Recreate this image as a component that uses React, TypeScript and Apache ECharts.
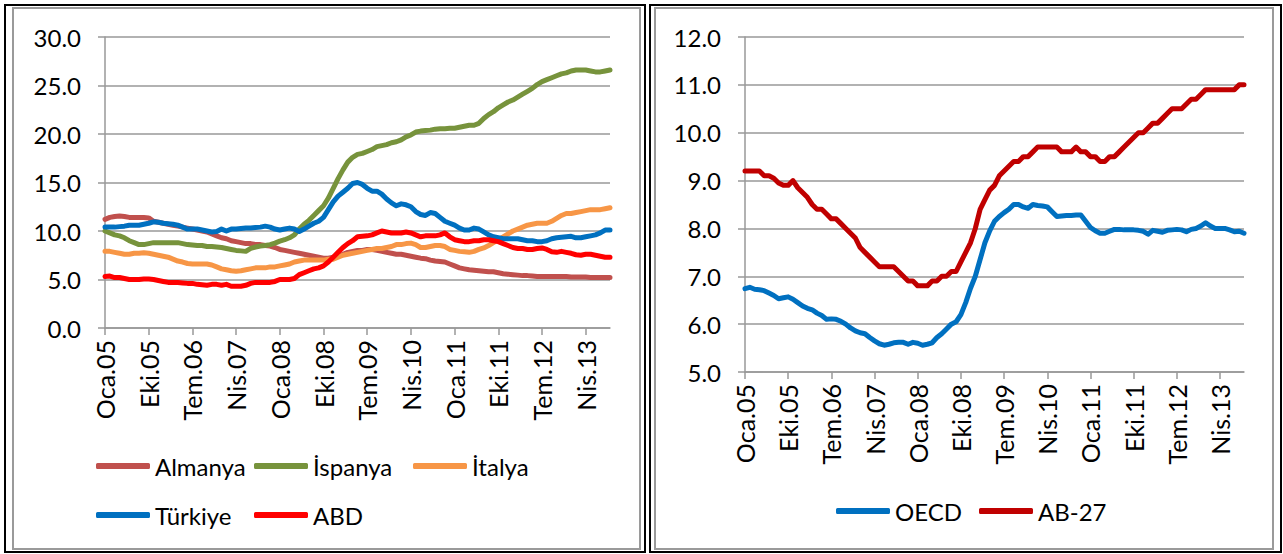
import React, { useEffect, useRef } from "react";
import * as echarts from "echarts";

const monthNames = ["Oca", "Şub", "Mar", "Nis", "May", "Haz", "Tem", "Ağu", "Eyl", "Eki", "Kas", "Ara"];
const yearNames = ["05", "06", "07", "08", "09", "10", "11", "12", "13"];
const monthCount = 105;
const categories: string[] = [];
for (let i = 0; i < monthCount; i++) {
  categories.push(monthNames[i % 12] + "." + yearNames[Math.floor(i / 12)]);
}

const almanya = [
  11.2, 11.4, 11.5, 11.55, 11.5, 11.4, 11.4, 11.4, 11.4, 11.35,
  11.0, 10.9, 10.8, 10.7, 10.6, 10.5, 10.4, 10.3, 10.2, 10.1,
  10.0, 9.9, 9.7, 9.5, 9.3, 9.2, 9.0, 8.9, 8.8, 8.7,
  8.7, 8.6, 8.6, 8.5, 8.45, 8.3, 8.1, 8.0, 7.9, 7.8,
  7.7, 7.6, 7.5, 7.4, 7.3, 7.2, 7.2, 7.3, 7.4, 7.6,
  7.8, 7.9, 8.0, 8.0, 8.1, 8.1, 8.0, 7.9, 7.8, 7.7,
  7.6, 7.6, 7.5, 7.4, 7.3, 7.2, 7.15, 7.0, 6.9, 6.85,
  6.8, 6.6, 6.4, 6.2, 6.1, 6.0, 5.95, 5.9, 5.85, 5.8,
  5.8, 5.7, 5.6, 5.55, 5.5, 5.45, 5.4, 5.4, 5.35, 5.3,
  5.3, 5.3, 5.3, 5.3, 5.3, 5.3, 5.25, 5.25, 5.25, 5.25,
  5.2, 5.2, 5.2, 5.2, 5.2,
];

const ispanya = [
  10.0, 9.8, 9.6, 9.5, 9.3, 9.0, 8.8, 8.6, 8.6, 8.7,
  8.8, 8.8, 8.8, 8.8, 8.8, 8.8, 8.7, 8.6, 8.55, 8.5,
  8.5, 8.4, 8.4, 8.35, 8.3, 8.2, 8.1, 8.0, 7.95, 7.9,
  8.2, 8.35, 8.45, 8.5, 8.6, 8.75, 8.95, 9.1, 9.3, 9.6,
  10.2, 10.7, 11.1, 11.6, 12.1, 12.6, 13.4, 14.4, 15.4, 16.3,
  17.1, 17.6, 17.9, 18.0, 18.2, 18.4, 18.7, 18.8, 18.9, 19.1,
  19.2, 19.4, 19.7, 19.9, 20.2, 20.3, 20.35, 20.4, 20.5, 20.55,
  20.55, 20.6, 20.6, 20.7, 20.8, 20.9, 20.9, 21.1, 21.6, 22.0,
  22.3, 22.7, 23.0, 23.3, 23.5, 23.8, 24.1, 24.4, 24.7, 25.1,
  25.4, 25.6, 25.8, 26.0, 26.2, 26.3, 26.5, 26.6, 26.6, 26.6,
  26.5, 26.4, 26.4, 26.5, 26.6,
];

const italya = [
  7.9, 7.9, 7.8, 7.7, 7.6, 7.6, 7.7, 7.7, 7.75, 7.7,
  7.6, 7.5, 7.4, 7.3, 7.1, 6.9, 6.8, 6.65, 6.6, 6.6,
  6.6, 6.6, 6.5, 6.3, 6.1, 6.0, 5.9, 5.85, 5.9, 6.0,
  6.1, 6.2, 6.2, 6.2, 6.3, 6.3, 6.4, 6.5, 6.6, 6.8,
  6.9, 7.0, 7.0, 7.0, 7.0, 7.0, 7.1, 7.1, 7.3, 7.5,
  7.6, 7.7, 7.8, 7.9, 8.0, 8.1, 8.2, 8.2, 8.3, 8.4,
  8.6, 8.6, 8.7, 8.75, 8.6, 8.3, 8.3, 8.4, 8.5, 8.5,
  8.4, 8.1, 8.0, 7.9, 7.85, 7.8, 7.9, 8.1, 8.25, 8.5,
  8.8, 9.1, 9.4, 9.7, 10.0, 10.2, 10.4, 10.6, 10.7, 10.8,
  10.8, 10.8, 11.0, 11.3, 11.6, 11.8, 11.8, 11.9, 12.0, 12.1,
  12.2, 12.2, 12.2, 12.3, 12.4,
];

const turkiye = [
  10.4, 10.4, 10.4, 10.45, 10.5, 10.6, 10.6, 10.6, 10.7, 10.8,
  10.95, 10.9, 10.8, 10.75, 10.7, 10.6, 10.4, 10.2, 10.2, 10.2,
  10.1, 10.0, 9.9, 9.95, 10.2, 10.0, 10.2, 10.2, 10.25, 10.3,
  10.3, 10.35, 10.4, 10.5, 10.4, 10.2, 10.1, 10.2, 10.3, 10.2,
  9.95, 10.2, 10.5, 10.8, 11.0, 11.4, 12.2, 13.0, 13.6, 14.0,
  14.4, 14.9, 15.0, 14.8, 14.4, 14.1, 14.1, 13.8, 13.3, 12.9,
  12.6, 12.8, 12.7, 12.5, 12.0, 11.7, 11.6, 11.9, 11.8, 11.4,
  11.0, 10.8, 10.6, 10.3, 10.1, 10.1, 10.3, 10.2, 9.9, 9.6,
  9.4, 9.3, 9.2, 9.2, 9.2, 9.2, 9.1, 9.0, 9.0, 8.9,
  8.9, 9.0, 9.2, 9.3, 9.35, 9.4, 9.45, 9.3, 9.3, 9.4,
  9.5, 9.6, 9.8, 10.1, 10.1,
];

const abd = [
  5.3, 5.35, 5.2, 5.2, 5.1, 5.0, 5.0, 5.0, 5.05, 5.05,
  5.0, 4.9, 4.8, 4.7, 4.7, 4.7, 4.65, 4.6, 4.6, 4.5,
  4.45, 4.4, 4.5, 4.5, 4.4, 4.5, 4.3, 4.3, 4.3, 4.4,
  4.6, 4.7, 4.7, 4.7, 4.7, 4.8, 5.0, 5.0, 5.0, 5.1,
  5.5, 5.7, 5.9, 6.1, 6.2, 6.4, 6.8, 7.3, 7.8, 8.3,
  8.7, 9.0, 9.4, 9.45, 9.5, 9.6, 9.8, 10.0, 9.9, 9.8,
  9.8, 9.8, 9.9, 9.8, 9.6, 9.4, 9.5, 9.5, 9.5, 9.6,
  9.8, 9.4, 9.1, 9.0, 8.9, 8.9, 9.0, 9.0, 9.1, 9.1,
  9.0, 8.9, 8.7, 8.5, 8.3, 8.2, 8.2, 8.1, 8.1, 8.2,
  8.25, 8.1, 7.85, 7.8, 7.9, 7.8, 7.7, 7.55, 7.5, 7.6,
  7.6, 7.5, 7.4, 7.3, 7.3,
];

const oecd = [
  6.74, 6.77, 6.73, 6.72, 6.7, 6.65, 6.6, 6.53, 6.55, 6.57,
  6.52, 6.45, 6.38, 6.33, 6.3, 6.23, 6.18, 6.1, 6.11, 6.1,
  6.06, 6.0, 5.92, 5.86, 5.82, 5.8, 5.72, 5.65, 5.59, 5.56,
  5.58, 5.61, 5.62, 5.62, 5.58, 5.62, 5.6, 5.56, 5.58, 5.61,
  5.72, 5.8, 5.9, 6.0, 6.05, 6.2, 6.45, 6.75, 7.0, 7.35,
  7.7, 7.95, 8.15, 8.25, 8.33, 8.4, 8.5, 8.5, 8.45, 8.42,
  8.5, 8.48, 8.47, 8.45, 8.35, 8.25, 8.26, 8.27, 8.27, 8.28,
  8.28, 8.15, 8.02, 7.95, 7.9, 7.9, 7.94, 7.98, 7.98, 7.97,
  7.97, 7.97, 7.96, 7.94, 7.88, 7.96, 7.94, 7.92, 7.96, 7.97,
  7.98, 7.97, 7.93, 7.98, 8.0, 8.05, 8.12, 8.05, 8.0, 8.0,
  8.0, 7.97, 7.93, 7.94, 7.9,
];

const ab27 = [
  9.2, 9.2, 9.2, 9.2, 9.1, 9.1, 9.05, 8.95, 8.9, 8.9,
  9.0, 8.85, 8.75, 8.65, 8.5, 8.4, 8.4, 8.3, 8.2, 8.2,
  8.1, 8.0, 7.9, 7.8, 7.6, 7.5, 7.4, 7.3, 7.2, 7.2,
  7.2, 7.2, 7.1, 7.0, 6.9, 6.9, 6.8, 6.8, 6.8, 6.9,
  6.9, 7.0, 7.0, 7.1, 7.1, 7.3, 7.5, 7.7, 8.0, 8.4,
  8.6, 8.8, 8.9, 9.1, 9.2, 9.3, 9.4, 9.4, 9.5, 9.5,
  9.6, 9.7, 9.7, 9.7, 9.7, 9.7, 9.6, 9.6, 9.6, 9.7,
  9.6, 9.6, 9.5, 9.5, 9.4, 9.4, 9.5, 9.5, 9.6, 9.7,
  9.8, 9.9, 10.0, 10.0, 10.1, 10.2, 10.2, 10.3, 10.4, 10.5,
  10.5, 10.5, 10.6, 10.7, 10.7, 10.8, 10.9, 10.9, 10.9, 10.9,
  10.9, 10.9, 10.9, 11.0, 11.0,
];

const FONT = "Lato";
const GRID_GREY = "#989898";

function makeX(gridIndex: number) {
  return {
    type: "category",
    gridIndex,
    data: categories,
    boundaryGap: false,
    axisLine: { show: true, lineStyle: { color: GRID_GREY, width: 1.5 } },
    axisTick: { show: true, interval: 8, length: 7, lineStyle: { color: GRID_GREY, width: 1.5 } },
    axisLabel: {
      interval: 8,
      rotate: 90,
      margin: 12,
      color: "#000",
      fontFamily: FONT,
      fontSize: 25,
    },
    splitLine: { show: false },
  };
}

function makeY(gridIndex: number, min: number, max: number, interval: number) {
  return {
    type: "value",
    gridIndex,
    min,
    max,
    interval,
    axisLine: { show: true, lineStyle: { color: GRID_GREY, width: 1.5 } },
    axisTick: { show: true, length: 7, lineStyle: { color: GRID_GREY, width: 1.5 } },
    axisLabel: {
      margin: 24,
      color: "#000",
      fontFamily: FONT,
      fontSize: 24,
      formatter: (v: number) => v.toFixed(1),
    },
    splitLine: { show: true, lineStyle: { color: GRID_GREY, width: 1.5 } },
  };
}

function makeSeries(name: string, data: number[], color: string, idx: number) {
  return {
    name,
    type: "line",
    xAxisIndex: idx,
    yAxisIndex: idx,
    data,
    color,
    symbol: "none",
    showSymbol: false,
    lineStyle: { color, width: 5, cap: "round", join: "round" },
    itemStyle: { color },
  };
}

function makeLegend(name: string, left: number, top: number) {
  return {
    data: [name],
    left,
    top,
    icon: "roundRect",
    itemWidth: 54,
    itemHeight: 6,
    itemGap: 0,
    padding: 0,
    textStyle: { color: "#000", fontFamily: FONT, fontSize: 24, lineHeight: 26, padding: [0, 0, 0, 0] },
    itemStyle: { borderWidth: 0 },
    selectedMode: false,
  };
}

export default function App() {
  const ref = useRef<HTMLDivElement>(null);
  useEffect(() => {
    if (!ref.current) return;
    const chart = echarts.init(ref.current, undefined, { renderer: "svg" });
    chart.setOption({
      animation: false,
      backgroundColor: "#fff",
      textStyle: { fontFamily: FONT },
      graphic: [
        { type: "rect", shape: { x: 5, y: 5, width: 640, height: 547 }, style: { fill: "none", stroke: "#000", lineWidth: 2 } },
        { type: "rect", shape: { x: 13, y: 8, width: 627, height: 541 }, style: { fill: "none", stroke: "#9a9a9a", lineWidth: 2 } },
        { type: "rect", shape: { x: 650, y: 5, width: 631, height: 547 }, style: { fill: "none", stroke: "#000", lineWidth: 2 } },
        { type: "rect", shape: { x: 655, y: 8, width: 618, height: 541 }, style: { fill: "none", stroke: "#9a9a9a", lineWidth: 2 } },
      ],
      grid: [
        { left: 105, top: 37, width: 505, height: 291 },
        { left: 745, top: 37, width: 499, height: 335 },
      ],
      xAxis: [makeX(0), makeX(1)],
      yAxis: [makeY(0, 0, 30, 5), makeY(1, 5, 12, 1)],
      legend: [
        makeLegend("Almanya", 96, 453),
        makeLegend("İspanya", 254, 453),
        makeLegend("İtalya", 413, 453),
        makeLegend("Türkiye", 96, 502),
        makeLegend("ABD", 254, 502),
        makeLegend("OECD", 836, 498),
        makeLegend("AB-27", 979, 498),
      ],
      series: [
        makeSeries("Almanya", almanya, "#C0504D", 0),
        makeSeries("İspanya", ispanya, "#77933C", 0),
        makeSeries("İtalya", italya, "#F79646", 0),
        makeSeries("Türkiye", turkiye, "#0070C0", 0),
        makeSeries("ABD", abd, "#FF0000", 0),
        makeSeries("OECD", oecd, "#0070C0", 1),
        makeSeries("AB-27", ab27, "#C00000", 1),
      ],
    });
    return () => chart.dispose();
  }, []);
  return (
    <div
      ref={ref}
      style={{ position: "absolute", left: 0, top: 0, width: 1283, height: 554 }}
    />
  );
}
